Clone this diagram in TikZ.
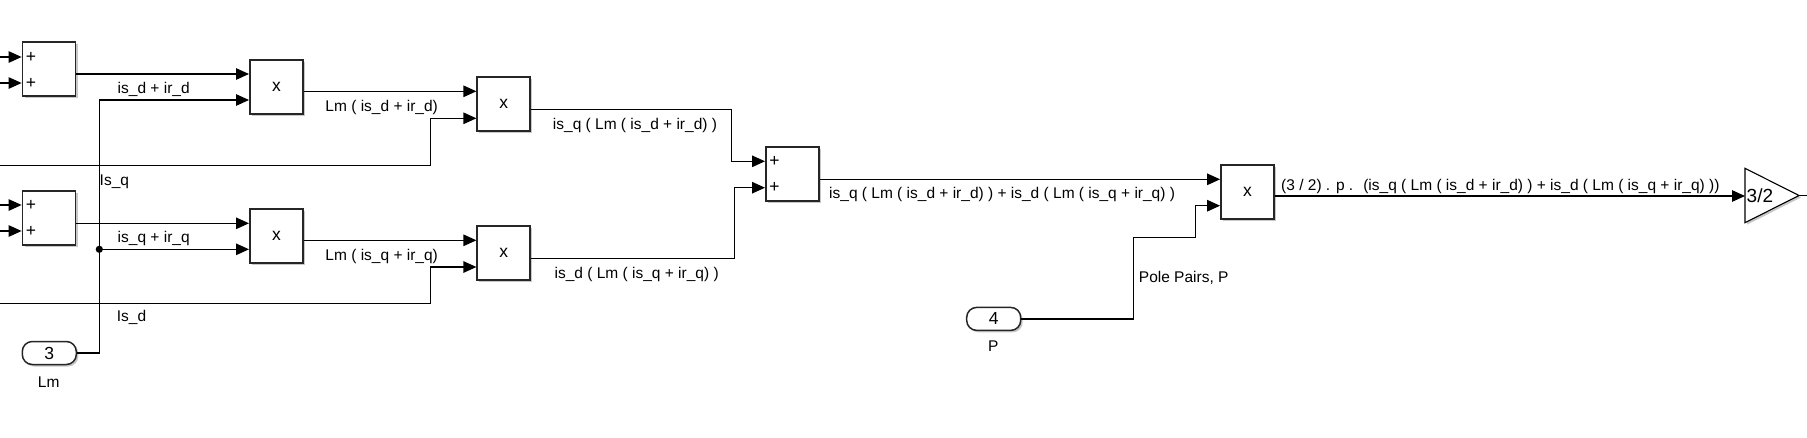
\documentclass[tikz,border=0pt]{standalone}
\usepackage{fontspec}
\setmainfont{Liberation Sans}
\usetikzlibrary{arrows.meta,shadows}
\newcommand\lblfont{\fontsize{15.5}{18}\selectfont}
\newcommand\symfont{\fontsize{17.5}{20}\selectfont}
\begin{document}
\begin{tikzpicture}[x=1pt,y=-1pt,
  shad/.style={drop shadow={shadow xshift=2pt,shadow yshift=-2pt,fill=black!30,opacity=0.7}},
  blk/.style={draw=black!85,line width=1.8pt,fill=white,minimum width=53pt,minimum height=54pt,inner sep=0pt,font=\symfont,shad},
  cst/.style={draw=black!85,line width=1.5pt,fill=white,rounded corners=10pt,minimum width=54pt,minimum height=23pt,inner sep=0pt,font=\symfont,shad},
  wire/.style={line width=1.2pt,black},
  arr/.style={wire,-{Triangle[length=13pt,width=11.5pt]}},
  lbl/.style={inner sep=0pt,font=\lblfont,text height=11pt,text depth=3pt},
  sym/.style={inner sep=0pt,font=\symfont},
]
\fill[white] (0,0) rectangle (1807,437);
\useasboundingbox (0,0) rectangle (1807,437);

% blocks
\node[blk] (s1) at (49,69.2) {};
\node[blk] (s2) at (49,218.2) {};
\node[blk] (p1) at (276.4,87) {x};
\node[blk] (p3) at (276.4,235.7) {x};
\node[blk] (p2) at (503.8,104.3) {x};
\node[blk] (p4) at (503.8,253) {x};
\node[blk] (s3) at (792.4,174.3) {};
\node[blk] (p5) at (1247.5,191.8) {x};
\node[cst] (c3) at (49.3,353) {3};
\node[cst] (c4) at (993.7,318.9) {4};
\draw[line width=1.1pt,fill=white,shad] (1745,168.3) -- (1745,222.7) -- (1799,195.5) -- cycle;
\coordinate (gin) at (1745,196);
\coordinate (gout) at (1799,195.5);
\coordinate (gend) at (1807,195.5);
\node[sym,anchor=west,font=\fontsize{19}{21}\selectfont] (gtxt) at (1746.5,196) {3/2};

% plus signs
\node[sym] (s1a) at (31,57) {+};
\node[sym] (s1b) at (31,83) {+};
\node[sym] (s2a) at (31,205) {+};
\node[sym] (s2b) at (31,231) {+};
\node[sym] (s3a) at (774.5,161.3) {+};
\node[sym] (s3b) at (774.5,187.7) {+};

% free ends
\coordinate (l1) at (0,57);
\coordinate (l2) at (0,83);
\coordinate (l3) at (0,205);
\coordinate (l4) at (0,231);
\coordinate (l5) at (0,165.3);
\coordinate (l6) at (0,303.3);
\coordinate (jn) at (99.3,249.3);

% connectors
\draw[arr] (l1) -- (s1.west |- l1);
\draw[arr] (l2) -- (s1.west |- l2);
\draw[arr] (l3) -- (s2.west |- l3);
\draw[arr] (l4) -- (s2.west |- l4);
\draw[arr] (s1.east |- 0,74) -- (p1.west |- 0,74);
\draw[arr] (s2.east |- 0,223.3) -- (p3.west |- 0,223.3);
\draw[arr] (c3.east) -| (99.3,100) -- (p1.west |- 0,100);
\draw[arr] (jn) -- (p3.west |- jn);
\fill (jn) circle (3.6pt);
\draw[arr] (l5) -- (430.3,165.3) |- (p2.west |- 0,118.3);
\draw[arr] (l6) -- (430.3,303.3) |- (p4.west |- 0,267);
\draw[arr] (p1.east |- 0,91.3) -- (p2.west |- 0,91.3);
\draw[arr] (p3.east |- 0,240.3) -- (p4.west |- 0,240.3);
\draw[arr] (p2.east |- 0,109.3) -| (731.3,161.3) -- (s3.west |- 0,161.3);
\draw[arr] (p4.east |- 0,258.3) -| (734.7,187.7) -- (s3.west |- 0,187.7);
\draw[arr] (s3.east |- 0,179.3) -- (p5.west |- 0,179.3);
\draw[arr] (c4.east) -| (1133.3,237.3) -| (1195.3,205.7) -- (p5.west |- 0,205.7);
\draw[arr] (p5.east |- 0,196) -- (gin);
\draw[wire] (gout) -- (gend);

% labels
\node[lbl] at (153.7,89) {is\_d + ir\_d};
\node[lbl] at (381.7,107.7) {Lm ( is\_d + ir\_d)};
\node[lbl] at (153.7,238.3) {is\_q + ir\_q};
\node[lbl] at (381.7,256) {Lm ( is\_q + ir\_q)};
\node[lbl] at (635,125) {is\_q ( Lm ( is\_d + ir\_d) )};
\node[lbl] at (636.7,274) {is\_d ( Lm ( is\_q + ir\_q) )};
\node[lbl,anchor=west] at (829,194.3) {is\_q ( Lm ( is\_d + ir\_d) ) + is\_d ( Lm ( is\_q + ir\_q) )};
\node[lbl,anchor=west] at (1281,186) {(3 / 2) . p . ~(is\_q ( Lm ( is\_d + ir\_d) ) + is\_d ( Lm ( is\_q + ir\_q) ))};
\node[lbl,anchor=west] at (1138.7,278.3) {Pole Pairs, P};
\node[lbl,anchor=west] at (99.5,181) {Is\_q};
\node[lbl,anchor=west] at (116.7,317.7) {Is\_d};
\node[lbl] at (48.7,383) {Lm};
\node[lbl] at (993.3,347.7) {P};
\end{tikzpicture}
\end{document}
